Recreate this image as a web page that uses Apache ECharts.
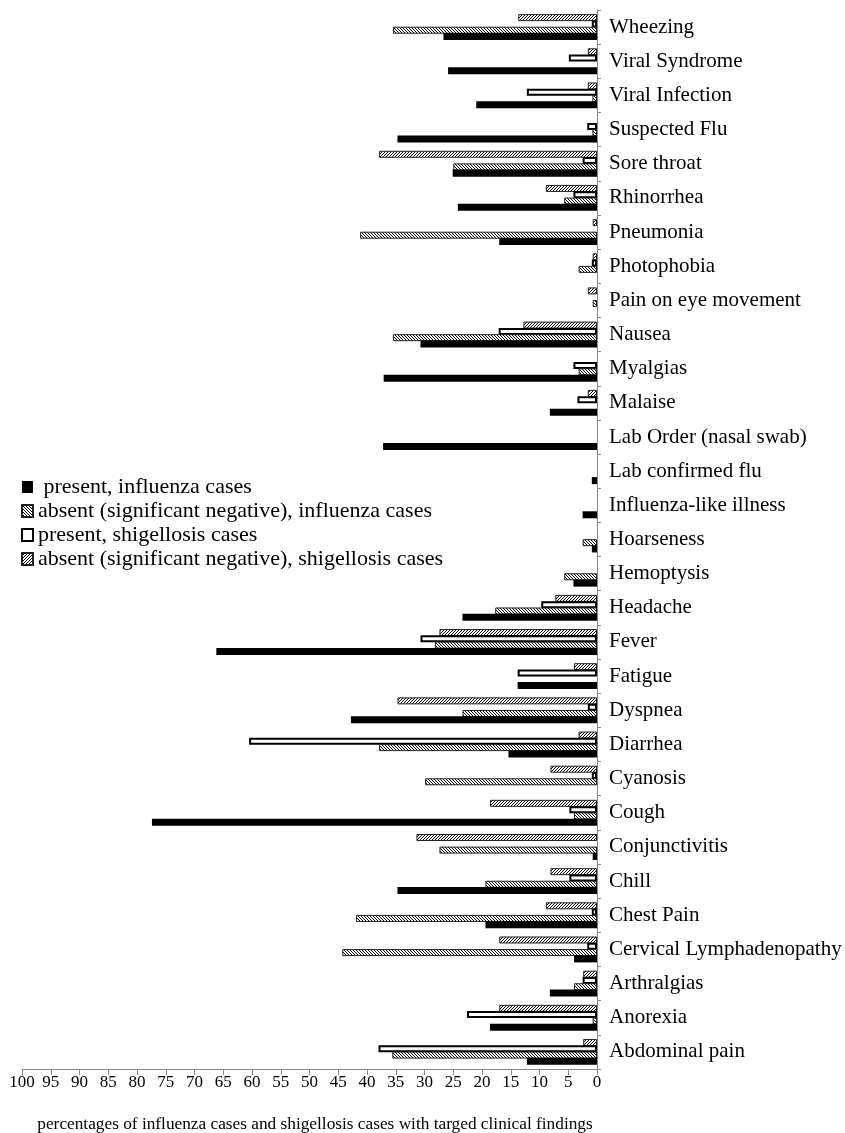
<!DOCTYPE html>
<html>
<head>
<meta charset="utf-8">
<script src="https://cdn.jsdelivr.net/npm/echarts@6/dist/echarts.min.js"></script>
<style>
html,body{margin:0;padding:0;background:#fff;}
#chart{width:845px;height:1133px;}
</style>
</head>
<body>
<div id="chart"></div>
<script>
// categories from bottom to top
const categories = ["Abdominal pain","Anorexia","Arthralgias","Cervical Lymphadenopathy","Chest Pain","Chill","Conjunctivitis","Cough","Cyanosis","Diarrhea","Dyspnea","Fatigue","Fever","Headache","Hemoptysis","Hoarseness","Influenza-like illness","Lab confirmed flu","Lab Order (nasal swab)","Malaise","Myalgias","Nausea","Pain on eye movement","Photophobia","Pneumonia","Rhinorrhea","Sore throat","Suspected Flu","Viral Infection","Viral Syndrome","Wheezing"];
const fluPresent  = [12.2,18.6,8.2,4.0,19.4,34.7,0.75,77.4,0,15.4,42.8,13.8,66.2,23.4,4.1,0.9,2.5,0.9,37.2,8.2,37.1,30.7,0,0,17.0,24.2,25.1,34.7,21.0,25.9,26.7];
const fluAbsent   = [35.6,0.75,4.0,44.3,41.9,19.4,27.4,4.0,29.9,37.9,23.4,0,28.2,17.7,5.7,2.5,0,0,0,0,3.2,35.5,0.75,3.2,41.2,5.7,25.0,0.8,0.8,0,35.5];
const shigPresent = [38.0,22.6,2.5,1.7,0.9,4.8,0,4.8,0.9,60.5,1.6,13.8,30.7,9.7,0,0,0,0,0,3.4,4.1,17.1,0,0.9,0,4.1,2.5,1.7,12.2,4.9,0.9];
const shigAbsent  = [2.4,17.0,2.4,17.0,8.9,8.1,31.4,18.6,8.1,3.2,34.7,4.0,27.4,7.25,0,0,0,0,0,1.6,0,12.8,1.6,0.75,0.75,8.9,37.9,0,1.6,1.6,13.7];
const seriesNames = [" present, influenza cases","absent (significant negative), influenza cases","present, shigellosis cases","absent (significant negative), shigellosis cases"];
const axisTitle = "percentages of influenza cases and shigellosis cases with targed clinical findings";

function hatch(dir){
  const n = 3;
  const c = document.createElement('canvas');
  c.width = n; c.height = n;
  const g = c.getContext('2d');
  g.fillStyle = '#fff'; g.fillRect(0,0,n,n);
  g.fillStyle = '#000';
  for (let i=0;i<n;i++){
    const x = dir === 'back' ? i : n - 1 - i;
    g.fillRect(x, i, 1, 1);
  }
  return c;
}
const fontFam = '"Liberation Serif","Times New Roman",serif';
const clean = arr => arr.map(v => v === 0 ? '-' : v);

const chart = echarts.init(document.getElementById('chart'), null, {renderer:'canvas'});
const base = {type:'bar', barWidth:7, barGap:'-10%', animation:false};
const sShigAbs = Object.assign({}, base, {name:seriesNames[3], data:clean(shigAbsent),
  itemStyle:{color:{image:hatch('fwd'),repeat:'repeat'}, borderColor:'#222', borderWidth:1}});
const sShigPres = Object.assign({}, base, {name:seriesNames[2], data:clean(shigPresent),
  itemStyle:{color:'#fff', borderColor:'#000', borderWidth:2}});
const sFluAbs = Object.assign({}, base, {name:seriesNames[1], data:clean(fluAbsent),
  itemStyle:{color:{image:hatch('back'),repeat:'repeat'}, borderColor:'#222', borderWidth:1}});
const sFluPres = Object.assign({}, base, {name:seriesNames[0], data:clean(fluPresent),
  itemStyle:{color:'#000', borderColor:'#000', borderWidth:0}});

chart.setOption({
  backgroundColor:'#fff',
  animation:false,
  legend:{
    orient:'vertical', left:16, top:471,
    data:seriesNames,
    itemWidth:11, itemHeight:12, itemGap:2,
    icon:'rect',
    textStyle:{fontFamily:fontFam, fontSize:22, color:'#000'}
  },
  grid:{left:22, right:248, top:10, bottom:64, containLabel:false, outerBoundsMode:'none'},
  xAxis:{
    type:'value', inverse:true, min:0, max:100, interval:5,
    splitLine:{show:false},
    axisLine:{show:true, lineStyle:{color:'#888', width:1}},
    axisTick:{show:true, length:6, lineStyle:{color:'#888'}},
    axisLabel:{fontFamily:fontFam, fontSize:17, color:'#000', margin:5},
    name:axisTitle, nameLocation:'middle', nameGap:47,
    nameTextStyle:{fontFamily:fontFam, fontSize:17.3, color:'#000', padding:[0,0,0,11]}
  },
  yAxis:{
    type:'category', position:'right', data:categories,
    axisLine:{show:true, lineStyle:{color:'#888', width:1}},
    axisTick:{show:true, length:4, inside:false, lineStyle:{color:'#888'}},
    axisLabel:{fontFamily:fontFam, fontSize:21, color:'#000', margin:12, padding:[6,0,0,0]}
  },
  series:[sShigAbs, sShigPres, sFluAbs, sFluPres]
});
</script>
</body>
</html>
